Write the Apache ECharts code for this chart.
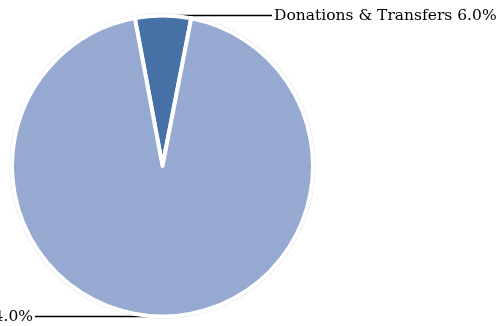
<!DOCTYPE html>
<html>
<head>
<meta charset="utf-8">
<script src="https://cdn.jsdelivr.net/npm/echarts@6/dist/echarts.min.js"></script>
<style>
  html, body { margin: 0; padding: 0; background: #ffffff; }
  #chart { width: 500px; height: 326px; }
</style>
</head>
<body>
<div id="chart"></div>
<script>
// Revenue split, in percent of total
const categories = ['Program Service Revenue', 'Donations & Transfers'];
const shares = [94.0, 6.0];
const sliceColors = ['#95A9D1', '#4671A7'];
const leaderLengths = [127, 109];

const chart = echarts.init(document.getElementById('chart'), null, { renderer: 'canvas' });

// Donations first so it sits at the top, the rest wraps clockwise
const order = [1, 0];
const pieData = order.map(function (i) {
  return {
    name: categories[i],
    value: shares[i],
    itemStyle: { color: sliceColors[i] },
    labelLine: { length: 0, length2: leaderLengths[i] }
  };
});

chart.setOption({
  animation: false,
  series: [
    {
      // faint outline ring behind the pie
      type: 'pie',
      silent: true,
      center: [162.5, 166],
      radius: 153,
      label: { show: false },
      labelLine: { show: false },
      itemStyle: { color: '#dfe1e6' },
      data: [{ value: 1, name: '' }],
      z: 1
    },
    {
      type: 'pie',
      center: [162.5, 166],
      radius: 150.5,
      startAngle: 100.6,
      clockwise: true,
      avoidLabelOverlap: false,
      itemStyle: { borderColor: '#ffffff', borderWidth: 4 },
      label: {
        show: true,
        position: 'outside',
        width: 320,
        formatter: function (p) { return p.name + ' ' + p.value.toFixed(1) + '%'; },
        fontFamily: 'DejaVu Serif',
        fontSize: 15.5,
        color: '#000000',
        distanceToLabelLine: 2
      },
      labelLine: {
        show: true,
        lineStyle: { color: '#000000', width: 1.3 }
      },
      data: pieData,
      z: 2
    }
  ]
});
</script>
</body>
</html>
